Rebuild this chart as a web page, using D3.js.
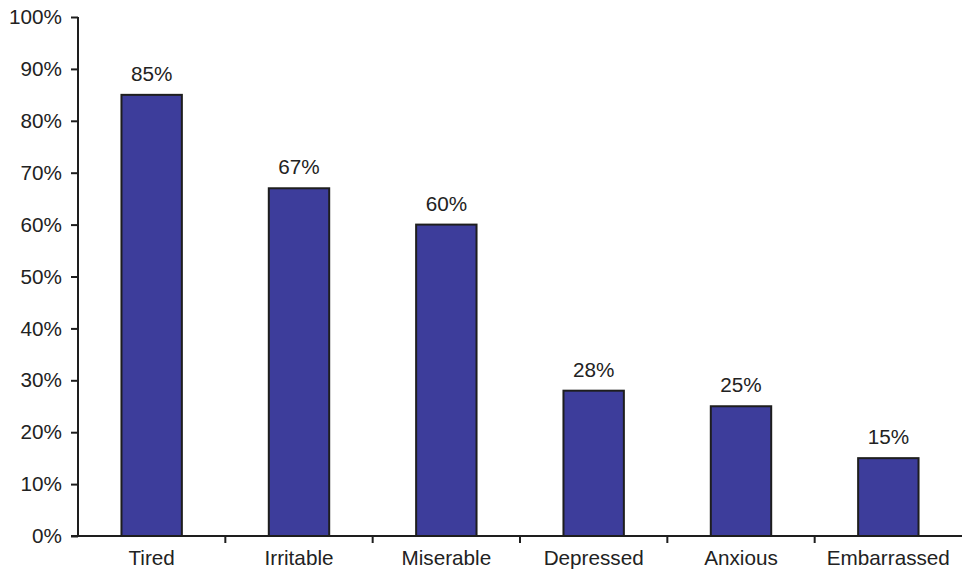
<!DOCTYPE html>
<html>
<head>
<meta charset="utf-8">
<script src="https://cdn.jsdelivr.net/npm/d3@7"></script>
<style>
  body { margin: 0; background: #fff; }
  svg text { font-family: "Liberation Sans", Arial, sans-serif; fill: #222; }
</style>
</head>
<body>
<div id="chart"></div>
<script>
// Data
var categories = ["Tired", "Irritable", "Miserable", "Depressed", "Anxious", "Embarrassed"];
var values     = [85, 67, 60, 28, 25, 15];
var yTicks     = [0, 10, 20, 30, 40, 50, 60, 70, 80, 90, 100];

var svgWidth  = 962;
var svgHeight = 571;
var margin = { top: 17, right: 0, bottom: 35, left: 78 };
var width  = svgWidth  - margin.left - margin.right;
var height = svgHeight - margin.top  - margin.bottom;
var fontSize = "20.7px";

var svg = d3.select("#chart").append("svg")
  .attr("width", svgWidth)
  .attr("height", svgHeight);

var g = svg.append("g")
  .attr("transform", `translate(${margin.left}, ${margin.top})`);

var x = d3.scaleBand()
  .domain(categories)
  .range([0, width])
  .paddingInner(0.59)
  .paddingOuter(0.295);

var y = d3.scaleLinear()
  .domain([0, 100])
  .range([height, 0]);

var data = categories.map((c, i) => ({ cat: c, val: values[i] }));

// bars
g.selectAll("rect.bar")
  .data(data)
  .enter().append("rect")
  .attr("class", "bar")
  .attr("x", d => x(d.cat))
  .attr("y", d => y(d.val))
  .attr("width", x.bandwidth())
  .attr("height", d => height - y(d.val))
  .attr("fill", "#3d3d9b")
  .attr("stroke", "#1e1e1e")
  .attr("stroke-width", 2);

// value labels
g.selectAll("text.val")
  .data(data)
  .enter().append("text")
  .attr("class", "val")
  .attr("x", d => x(d.cat) + x.bandwidth() / 2)
  .attr("y", d => y(d.val) - 14)
  .attr("text-anchor", "middle")
  .style("font-size", fontSize)
  .text(d => d.val + "%");

// y axis
var yAxis = g.append("g")
  .call(d3.axisLeft(y).tickValues(yTicks).tickSize(7).tickPadding(9).tickFormat(d => d + "%"));
yAxis.select(".domain").attr("stroke", "#1e1e1e").attr("stroke-width", 2)
  .attr("d", `M0,${y(100)}V${height}`);
yAxis.selectAll(".tick line").attr("stroke", "#1e1e1e").attr("stroke-width", 2);
yAxis.selectAll(".tick text").style("font-size", fontSize).attr("fill", "#222");

// x axis: ticks between categories
var boundaries = d3.range(1, categories.length).map(i => i * x.step());
var xAxis = g.append("g").attr("transform", `translate(0, ${height})`);
xAxis.append("line")
  .attr("x1", -7).attr("x2", width)
  .attr("y1", 0).attr("y2", 0)
  .attr("stroke", "#1e1e1e").attr("stroke-width", 2);
xAxis.selectAll("line.tick")
  .data(boundaries)
  .enter().append("line")
  .attr("class", "tick")
  .attr("x1", d => d).attr("x2", d => d)
  .attr("y1", 0).attr("y2", 7)
  .attr("stroke", "#1e1e1e").attr("stroke-width", 2);
xAxis.selectAll("text")
  .data(categories)
  .enter().append("text")
  .attr("x", d => x(d) + x.bandwidth() / 2)
  .attr("y", 29)
  .attr("text-anchor", "middle")
  .style("font-size", fontSize)
  .text(d => d);
</script>
</body>
</html>
